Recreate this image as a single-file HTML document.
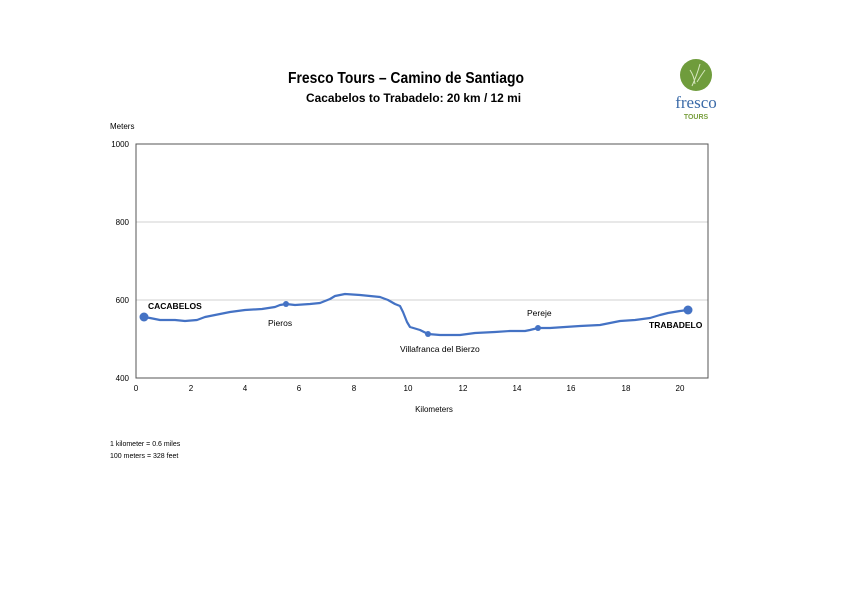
<!DOCTYPE html>
<html><head><meta charset="utf-8"><style>
body{margin:0;background:#fff;}
svg{display:block;font-family:"Liberation Sans",sans-serif;}
</style></head><body>
<svg width="841" height="595" viewBox="0 0 841 595">
<text x="288" y="83" font-size="16" font-weight="bold" fill="#000" textLength="236" lengthAdjust="spacingAndGlyphs">Fresco Tours – Camino de Santiago</text>
<text x="306" y="102" font-size="12" font-weight="bold" fill="#000" textLength="215" lengthAdjust="spacingAndGlyphs">Cacabelos to Trabadelo: 20 km / 12 mi</text>
<circle cx="696" cy="75" r="16" fill="#6f9c3c"/>
<path d="M692 86 Q697 75 700 64 M695 84 Q694 76 690 70 M697 82 Q702 74 705 70" stroke="#d8e8c0" stroke-width="1" fill="none"/>
<text x="696" y="108" text-anchor="middle" font-size="17" fill="#3a6aa8" font-family="Liberation Serif,serif">fresco</text>
<text x="696" y="119" text-anchor="middle" font-size="7" font-weight="bold" fill="#7aa040">TOURS</text>
<text x="110" y="129" font-size="8" fill="#000">Meters</text>
<line x1="136" y1="222" x2="708" y2="222" stroke="#d0d0d0" stroke-width="1"/>
<line x1="136" y1="300" x2="708" y2="300" stroke="#d0d0d0" stroke-width="1"/>
<rect x="136" y="144" width="572" height="234" fill="none" stroke="#555" stroke-width="1"/>
<g font-size="8" fill="#000" text-anchor="end">
<text x="129" y="147">1000</text><text x="129" y="225">800</text><text x="129" y="303">600</text><text x="129" y="381">400</text>
</g>
<g font-size="8" fill="#000" text-anchor="middle">
<text x="136" y="391">0</text><text x="191" y="391">2</text><text x="245" y="391">4</text><text x="299" y="391">6</text><text x="354" y="391">8</text><text x="408" y="391">10</text><text x="463" y="391">12</text><text x="517" y="391">14</text><text x="571" y="391">16</text><text x="626" y="391">18</text><text x="680" y="391">20</text>
</g>
<text x="434" y="412" font-size="8" text-anchor="middle">Kilometers</text>
<polyline fill="none" stroke="#4472c4" stroke-width="2.2" stroke-linejoin="round" points="144,317 150,318 160,320 175,320 185,321 197,320 205,317 215,315 225,313 230,312 245,310 262,309 275,307 280,305 286,304 295,305 310,304 320,303 330,299 335,296 345,294 360,295 370,296 380,297 388,300 395,304 400,306 403,312 407,322 410,327 420,330 428,334 440,335 460,335 475,333 495,332 510,331 525,331 530,330 538,328 550,328 565,327 580,326 600,325 610,323 620,321 635,320 650,318 660,315 668,313 680,311 688,310"/>
<g fill="#4472c4">
<circle cx="144" cy="317" r="4.5"/><circle cx="286" cy="304" r="3"/><circle cx="428" cy="334" r="3"/><circle cx="538" cy="328" r="3"/><circle cx="688" cy="310" r="4.5"/>
</g>
<g font-size="8.5" fill="#000">
<text x="148" y="309" font-weight="bold">CACABELOS</text>
<text x="268" y="326">Pieros</text>
<text x="400" y="352">Villafranca del Bierzo</text>
<text x="527" y="316">Pereje</text>
<text x="649" y="328" font-weight="bold">TRABADELO</text>
</g>
<text x="110" y="446" font-size="7">1 kilometer = 0.6 miles</text>
<text x="110" y="458" font-size="7">100 meters = 328 feet</text>
</svg>
</body></html>
